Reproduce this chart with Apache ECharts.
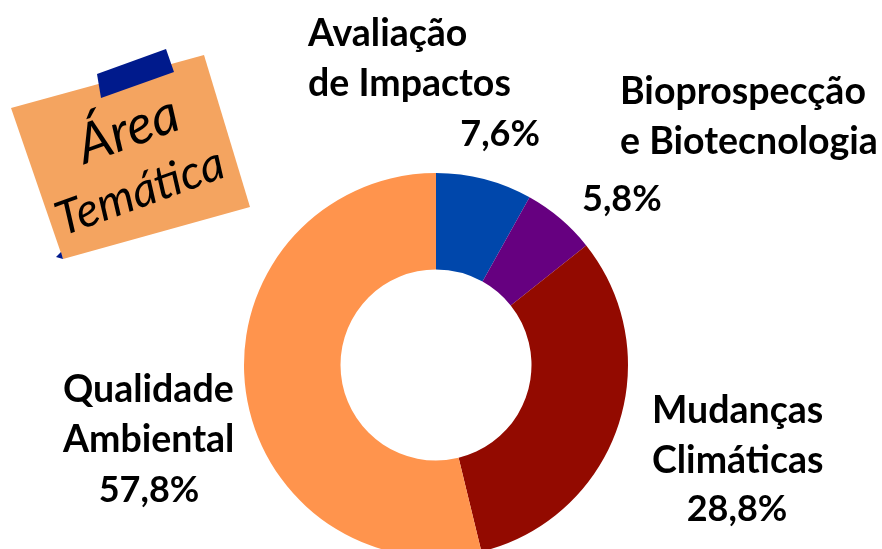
<!DOCTYPE html>
<html><head><meta charset="utf-8">
<style>html,body{margin:0;padding:0;background:#fff}#c{width:882px;height:549px}</style>
<script src="https://cdn.jsdelivr.net/npm/echarts@6/dist/echarts.min.js"></script>
</head><body><div id="c"></div>
<script>
const categories = [['Avaliação', 'de Impactos'], ['Bioprospecção', 'e Biotecnologia'], ['Mudanças', 'Climáticas'], ['Qualidade', 'Ambiental']];
// Printed percentages
const percentLabels = ['7,6%', '5,8%', '28,8%', '57,8%'];
const sliceValues = [8.1, 6.2, 31.9, 53.8];
const sliceColors = ['#0047AB', '#660080', '#930A00', '#FF944D'];
const labelSpots = [
  {x: 308, y: 9, w: 232, pAlign: 'right', nPad: 0, pLine: 50},
  {x: 582, y: 67, w: 297, pAlign: 'left', nPad: 38, pLine: 64},
  {x: 652, y: 386, w: 170, pAlign: 'center', nPad: 0, pLine: 46},
  {x: 63, y: 365, w: 172, pAlign: 'center', nPad: 0, pLine: 50}
];
const nameFont = {fontFamily: 'Lato', fontWeight: 700, fontSize: 37.5, color: '#000', lineHeight: 50};
const pctFont = {fontFamily: 'Lato', fontWeight: 700, fontSize: 36, color: '#000'};

const chart = echarts.init(document.getElementById('c'), null, {renderer: 'canvas'});
chart.setOption({
  animation: false,
  backgroundColor: '#fff',
  graphic: [
    {type: 'polygon', shape: {points: [[11,108],[204,55],[250,207],[63,259]]}, style: {fill: '#F4A460'}, z: 1},
    {type: 'polygon', shape: {points: [[56,257],[61,252],[63,259]]}, style: {fill: '#001A8C'}, z: 1},
    {type: 'polygon', shape: {points: [[97,74],[166,49],[174,72],[101,98]]}, style: {fill: '#001A8C'}, z: 2},
    {type: 'text', x: 128, y: 130, rotation: 20 * Math.PI / 180, z: 3,
      style: {text: 'Área', x: 0, y: 0, align: 'center', verticalAlign: 'middle', fill: '#000', font: 'italic 400 54px Lato'}},
    {type: 'text', x: 140, y: 192, rotation: 20 * Math.PI / 180, z: 3,
      style: {text: 'Temática', x: 0, y: 0, align: 'center', verticalAlign: 'middle', fill: '#000', font: 'italic 400 47px Lato'}}
  ],
  series: [{
    type: 'pie',
    center: [436, 365],
    radius: [95.5, 192],
    startAngle: 90,
    clockwise: true,
    silent: true,
    labelLine: {show: false},
    label: {show: true, position: 'outside'},
    labelLayout: p => ({x: labelSpots[p.dataIndex].x, y: labelSpots[p.dataIndex].y, align: 'left', verticalAlign: 'top', hideOverlap: false}),
    data: categories.map((lines, i) => ({
      name: lines.join(' '),
      value: sliceValues[i],
      itemStyle: {color: sliceColors[i]},
      label: {
        formatter: lines.map(l => '{n|' + l + '}').join('\n') + '\n{p|' + percentLabels[i] + '}',
        width: labelSpots[i].w,
        overflow: 'none',
        rich: {
          n: {...nameFont, align: 'left', padding: [0, 0, 0, labelSpots[i].nPad]},
          p: {...pctFont, lineHeight: labelSpots[i].pLine, align: labelSpots[i].pAlign}
        }
      }
    }))
  }]
});
</script></body></html>
